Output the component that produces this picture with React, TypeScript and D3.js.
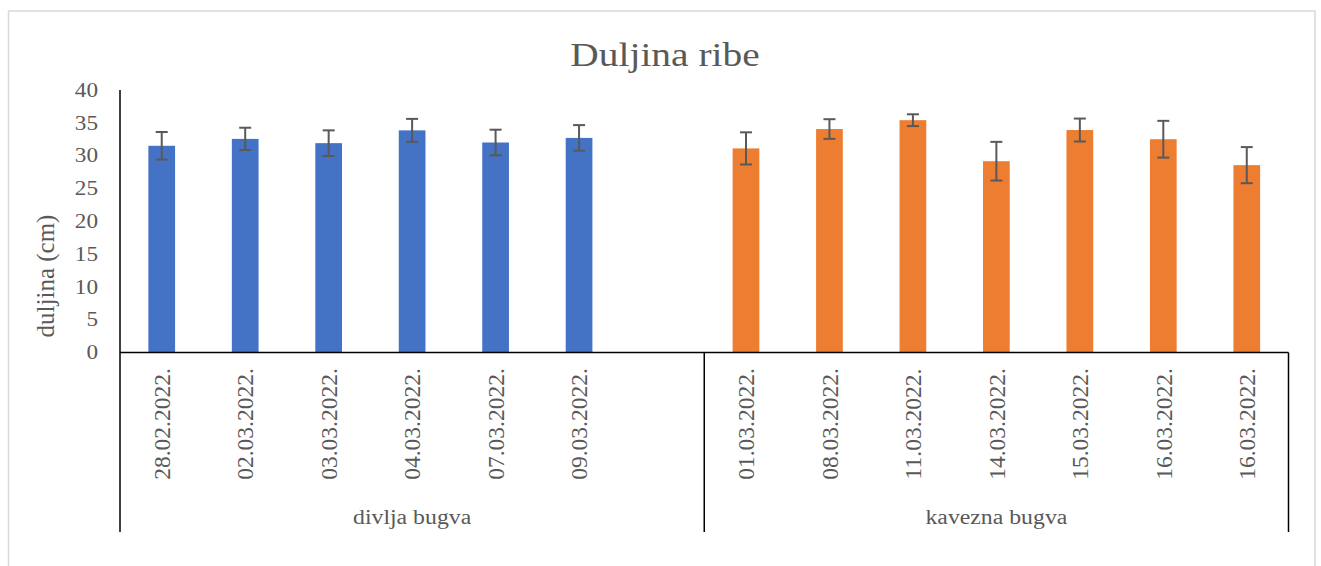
import React, { useEffect, useRef } from 'react';
import * as d3 from 'd3';

// divlja bugva (wild) - last slot is empty in the original sheet
const divljaDates = ['28.02.2022.', '02.03.2022.', '03.03.2022.', '04.03.2022.', '07.03.2022.', '09.03.2022.', ''];
const divljaMeans = [31.5, 32.55, 31.9, 33.85, 32.0, 32.7, null];
const divljaErr = [2.1, 1.7, 1.95, 1.75, 1.95, 1.95, null];

// kavezna bugva (cage)
const kaveznaDates = ['01.03.2022.', '08.03.2022.', '11.03.2022.', '14.03.2022.', '15.03.2022.', '16.03.2022.', '16.03.2022.'];
const kaveznaMeans = [31.1, 34.05, 35.4, 29.15, 33.9, 32.5, 28.55];
const kaveznaErr = [2.45, 1.5, 0.9, 2.95, 1.75, 2.8, 2.75];

const groups = ['divlja bugva', 'kavezna bugva'];
const yTicks = [0, 5, 10, 15, 20, 25, 30, 35, 40];

const W = 1321;
const H = 566;
const FONT = '"Liberation Serif", "Times New Roman", serif';
const TXT = '#595959';

export default function App() {
  const ref = useRef<SVGSVGElement>(null);

  useEffect(() => {
    document.body.style.margin = '0';
    const svg = d3.select(ref.current);
    svg.selectAll('*').remove();

    const rows = [
      ...divljaDates.map((d, i) => ({ key: 'd' + i, label: d, group: 0, v: divljaMeans[i], e: divljaErr[i] })),
      ...kaveznaDates.map((d, i) => ({ key: 'k' + i, label: d, group: 1, v: kaveznaMeans[i], e: kaveznaErr[i] })),
    ];
    const color = ['#4472C4', '#ED7D31'];

    const left = 120;
    const right = 1288.5;
    const top = 90;
    const base = 352.5;
    const catBottom = 532;

    const x = d3.scaleBand().domain(rows.map(r => r.key)).range([left, right]).padding(0);
    const y = d3.scaleLinear().domain([0, 40]).range([base, top]);
    const bw = x.step() * 0.32;

    svg
      .append('rect')
      .attr('x', 8.5)
      .attr('y', 11)
      .attr('width', 1306.5)
      .attr('height', 570)
      .attr('fill', '#fff')
      .attr('stroke', '#d9d9d9')
      .attr('stroke-width', 1.5);

    svg
      .append('g')
      .attr('transform', 'translate(665,66) scale(1.16,1)')
      .append('text')
      .attr('text-anchor', 'middle')
      .attr('font-family', FONT)
      .attr('font-size', 34)
      .attr('fill', TXT)
      .text('Duljina ribe');

    // y tick labels
    svg
      .append('g')
      .selectAll('g')
      .data(yTicks)
      .join('g')
      .attr('transform', d => `translate(98,${y(d)}) scale(1.16,1)`)
      .append('text')
      .attr('text-anchor', 'end')
      .attr('dy', '0.34em')
      .attr('font-family', FONT)
      .attr('font-size', 20)
      .attr('fill', TXT)
      .text(d => d);

    svg
      .append('g')
      .attr('transform', 'translate(46,276) rotate(-90)')
      .append('text')
      .attr('text-anchor', 'middle')
      .attr('dy', '0.3em')
      .attr('font-family', FONT)
      .attr('font-size', 25)
      .attr('fill', TXT)
      .text('duljina (cm)');

    const data = rows.filter(r => r.v != null);

    svg
      .append('g')
      .selectAll('rect')
      .data(data)
      .join('rect')
      .attr('x', d => x(d.key)! + x.bandwidth() / 2 - bw / 2)
      .attr('y', d => y(d.v as number))
      .attr('width', bw)
      .attr('height', d => base - y(d.v as number))
      .attr('fill', d => color[d.group]);

    // error bars
    const eb = svg.append('g').attr('stroke', '#595959').attr('stroke-width', 2).attr('fill', 'none');
    data.forEach(d => {
      const cx = x(d.key)! + x.bandwidth() / 2;
      const hi = y((d.v as number) + (d.e as number));
      const lo = y((d.v as number) - (d.e as number));
      eb.append('line').attr('x1', cx).attr('x2', cx).attr('y1', hi).attr('y2', lo);
      eb.append('line').attr('x1', cx - 6).attr('x2', cx + 6).attr('y1', hi).attr('y2', hi);
      eb.append('line').attr('x1', cx - 6).attr('x2', cx + 6).attr('y1', lo).attr('y2', lo);
    });

    // axes
    const ax = svg.append('g').attr('stroke', '#000').attr('stroke-width', 1.5);
    ax.append('line').attr('x1', left).attr('x2', left).attr('y1', top).attr('y2', catBottom);
    ax.append('line').attr('x1', left).attr('x2', right).attr('y1', base).attr('y2', base);
    const divX = x('k0')!;
    ax.append('line').attr('x1', divX).attr('x2', divX).attr('y1', base).attr('y2', catBottom);
    ax.append('line').attr('x1', right).attr('x2', right).attr('y1', base).attr('y2', catBottom);

    // date labels
    svg
      .append('g')
      .selectAll('g')
      .data(rows.filter(r => r.label))
      .join('g')
      .attr('transform', d => `translate(${x(d.key)! + x.bandwidth() / 2},424) rotate(-90)`)
      .append('text')
      .attr('text-anchor', 'middle')
      .attr('dy', '0.35em')
      .attr('font-family', FONT)
      .attr('font-size', 23.5)
      .attr('fill', TXT)
      .text(d => d.label);

    // group labels
    const gx = [(left + divX) / 2, (divX + right) / 2];
    svg
      .append('g')
      .selectAll('g')
      .data(groups)
      .join('g')
      .attr('transform', (d, i) => `translate(${gx[i]},524) scale(1.16,1)`)
      .append('text')
      .attr('text-anchor', 'middle')
      .attr('font-family', FONT)
      .attr('font-size', 20.5)
      .attr('fill', TXT)
      .text(d => d);
  }, []);

  return <svg ref={ref} width={W} height={H} style={{ display: 'block' }} />;
}
